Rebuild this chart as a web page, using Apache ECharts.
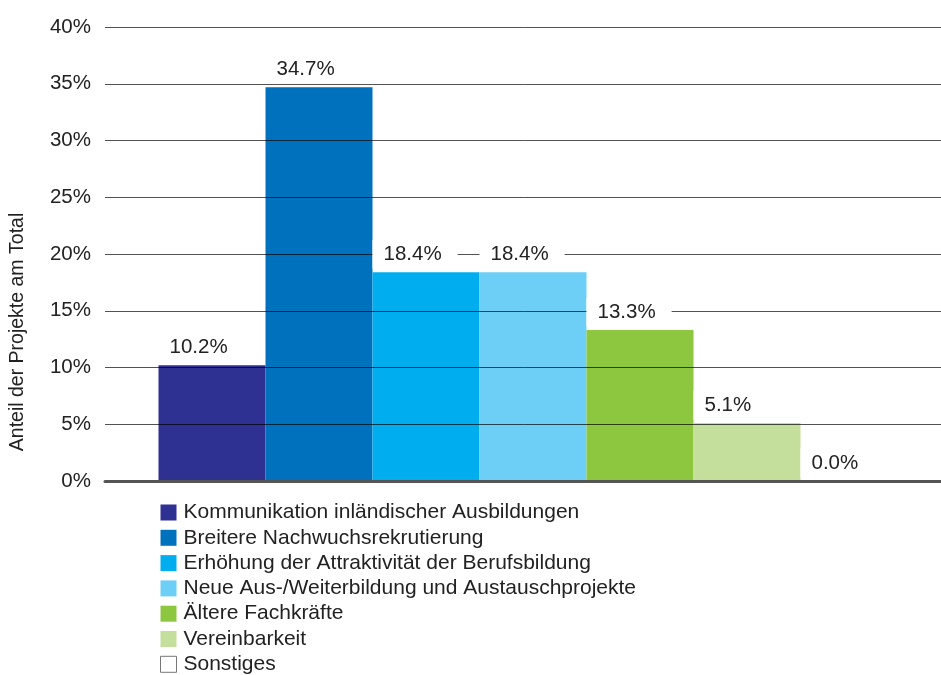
<!DOCTYPE html>
<html>
<head>
<meta charset="utf-8">
<script src="https://cdn.jsdelivr.net/npm/echarts@6/dist/echarts.min.js"></script>
<style>
  html, body { margin: 0; padding: 0; background: #fff; }
  #chart { width: 941px; height: 675px; }
</style>
</head>
<body>
<div id="chart"></div>
<script>
// Kategorien und Werte (Anteil in %)
var names = [
  "Kommunikation inländischer Ausbildungen",
  "Breitere Nachwuchsrekrutierung",
  "Erhöhung der Attraktivität der Berufsbildung",
  "Neue Aus-/Weiterbildung und Austauschprojekte",
  "Ältere Fachkräfte",
  "Vereinbarkeit",
  "Sonstiges"
];
var values = [10.2, 34.7, 18.4, 18.4, 13.3, 5.1, 0.0];
var colors = ["#2e3192", "#0071bc", "#00aeef", "#6dcff6", "#8dc63f", "#c4df9b", "#ffffff"];
var yTicks = [0, 5, 10, 15, 20, 25, 30, 35, 40];

var font = "'Liberation Sans', Arial, Helvetica, sans-serif";
var myChart = echarts.init(document.getElementById("chart"));

var series = [];
// Balken
names.forEach(function (n, i) {
  series.push({
    name: n,
    type: "bar",
    xAxisIndex: 0,
    z: 2,
    barWidth: 107,
    barGap: "0%",
    itemStyle: { color: colors[i] },
    data: [values[i]]
  });
});
// Beschriftungen über den Gitterlinien (eigene Achse, transparent)
names.forEach(function (n, i) {
  series.push({
    name: "lbl" + i,
    type: "bar",
    xAxisIndex: 1,
    z: 5,
    silent: true,
    barWidth: 107,
    barGap: "0%",
    itemStyle: { color: "transparent" },
    label: {
      show: true,
      position: [0, -18],
      align: "left",
      verticalAlign: "middle",
      backgroundColor: "#fff",
      padding: [4, 16, 4, 11],
      color: "#222",
      fontSize: 20.5,
      fontFamily: font,
      formatter: function (p) { return p.value.toFixed(1) + "%"; }
    },
    data: [values[i]]
  });
});

var legendData = names.map(function (n, i) {
  if (i === names.length - 1) {
    return { name: n, itemStyle: { color: "#fff", borderColor: "#777", borderWidth: 1 } };
  }
  return { name: n };
});

var option = {
  animation: false,
  backgroundColor: "#fff",
  grid: { left: 105, right: -20, top: 27, bottom: 194, containLabel: false, outerBoundsMode: "none" },
  legend: {
    orient: "vertical",
    left: 160,
    top: 502,
    height: 200,
    padding: 0,
    icon: "rect",
    itemWidth: 16,
    itemHeight: 16,
    itemGap: 4.3,
    selectedMode: false,
    textStyle: { color: "#222", fontSize: 21, fontFamily: font, padding: [0, 0, 0, 2] },
    data: legendData
  },
  tooltip: { show: false },
  xAxis: [
    {
      type: "category",
      data: [""],
      z: 3,
      axisLine: { show: true, lineStyle: { color: "#555", width: 3 } },
      axisTick: { show: false },
      axisLabel: { show: false }
    },
    {
      type: "category",
      data: [""],
      show: false
    }
  ],
  yAxis: {
    type: "value",
    min: yTicks[0],
    max: yTicks[yTicks.length - 1],
    interval: 5,
    z: 3,
    name: "Anteil der Projekte am Total",
    nameLocation: "middle",
    nameGap: 77,
    nameTextStyle: { color: "#222", fontSize: 19.5, fontFamily: font, padding: [0, 156, 0, 0] },
    axisLine: { show: false },
    axisTick: { show: false },
    axisLabel: {
      color: "#222",
      fontSize: 20.5,
      fontFamily: font,
      margin: 14,
      formatter: "{value}%"
    },
    splitLine: { lineStyle: { color: "rgba(0,0,0,0.68)", width: 1 } }
  },
  series: series
};

myChart.setOption(option);
</script>
</body>
</html>
